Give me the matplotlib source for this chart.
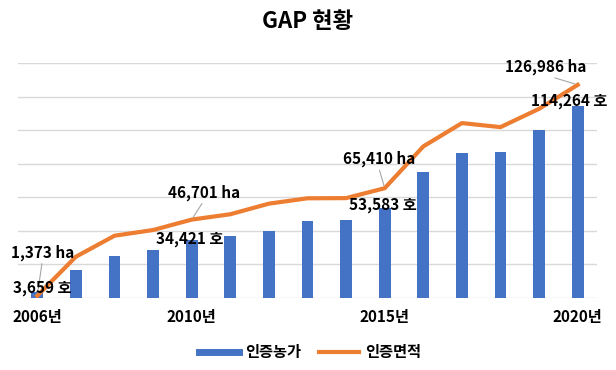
import matplotlib
matplotlib.use("Agg")
import matplotlib.pyplot as plt
from matplotlib.lines import Line2D

plt.rcParams['font.family'] = ['Noto Sans CJK KR', 'DejaVu Sans']

years = list(range(2006, 2021))
farms = [3659, 16700, 25000, 28600, 34421, 36900, 39900, 45900, 46400, 53583,
         75000, 86400, 87000, 99800, 114264]
area = [1373, 24600, 37100, 40500, 46701, 49900, 56200, 59400, 59500, 65410,
        90300, 104200, 101800, 112700, 126986]
tick_years = [2006, 2010, 2015, 2020]
title = "GAP 현황"
bar_name = "인증농가"
line_name = "인증면적"

bar_color = "#4472C4"
line_color = "#ED7D31"

fig = plt.figure(figsize=(6.16, 3.70), dpi=100)
ax = fig.add_axes([18/616, (370-298)/370, (597-18)/616, (298-63)/370])

x = list(range(len(years)))
ax.bar(x, farms, width=0.31, color=bar_color, zorder=2)
ax.plot(x, area, color=line_color, lw=3, zorder=3, solid_joinstyle='round')

ax.set_xlim(-0.5, len(years) - 0.5)
ax.set_ylim(0, 140000)
ax.set_yticks(range(0, 140001, 20000))
ax.yaxis.grid(True, color="#D9D9D9", lw=1, zorder=0)
ax.set_axisbelow(True)
ax.tick_params(axis='y', left=False, labelleft=False)
for s in ax.spines.values():
    s.set_visible(False)
ax.set_xticks([years.index(y) for y in tick_years])
ax.set_xticklabels([f"{y}년" for y in tick_years], fontsize=11, fontweight='bold')
ax.tick_params(axis='x', length=0, pad=8)

# labels
area_labels = {2006: (5, 43), 2010: (12, 27), 2015: (-6, 29), 2020: (-32, 18)}
for yr, (dx, dy) in area_labels.items():
    i = years.index(yr)
    v = area[i]
    ax.annotate(f"{v:,} ha", xy=(i, v), xytext=(dx, dy), textcoords='offset pixels',
                ha='center', va='center', fontsize=11, fontweight='bold', zorder=5,
                arrowprops=dict(arrowstyle='-', color='#A6A6A6', lw=0.8,
                                shrinkA=0, shrinkB=2, relpos=(0.5, 0)))

farm_labels = {2006: (5, 4), 2010: (-2, 1), 2015: (-2, 3), 2020: (-9, 5)}
for yr, (dx, dy) in farm_labels.items():
    i = years.index(yr)
    v = farms[i]
    ax.annotate(f"{v:,} 호", xy=(i, v), xytext=(dx, dy), textcoords='offset pixels',
                ha='center', va='center', fontsize=11, fontweight='bold', zorder=5)

fig.text(0.5, 1 - 22/370, title, ha='center', va='center', fontsize=16, fontweight='bold')

handles = [Line2D([0], [0], color=bar_color, lw=5),
           Line2D([0], [0], color=line_color, lw=3)]
fig.legend(handles, [bar_name, line_name], loc='center', bbox_to_anchor=(310/616, 1 - 352/370),
           ncol=2, frameon=False, prop={'size': 11, 'weight': 'bold'},
           handlelength=2.6, handletextpad=0.4, columnspacing=1.2)

fig.savefig("out.png", dpi=100)
